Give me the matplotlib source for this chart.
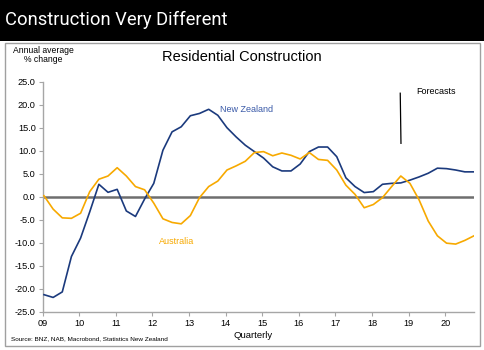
import numpy as np
import matplotlib.pyplot as plt
from matplotlib.patches import Rectangle

# --------------------------------------------------
# data (annual average % change, quarterly 2009Q1 - 2020Q4)
# --------------------------------------------------
years = list(range(2009, 2021))
year_labels = ['09', '10', '11', '12', '13', '14', '15', '16', '17', '18', '19', '20']

nz = [-21.3, -21.9, -20.7, -13.0,
      -9.0, -3.3, 2.7, 0.95,
      1.6, -3.1, -4.3, -0.5,
      2.9, 10.1, 14.1, 15.2,
      17.6, 18.1, 19.0, 17.7,
      15.0, 13.0, 11.2, 9.8,
      8.4, 6.5, 5.6, 5.6,
      7.1, 9.8, 10.8, 10.8,
      8.7, 4.1, 2.2, 0.9,
      1.1, 2.7, 2.9, 3.0,
      3.6, 4.3, 5.1, 6.2,
      6.1, 5.8, 5.4, 5.4]

aus = [0.2, -2.7, -4.6, -4.7,
       -3.6, 1.1, 3.8, 4.5,
       6.3, 4.5, 2.2, 1.5,
       -1.4, -4.8, -5.6, -5.9,
       -4.1, -0.2, 2.2, 3.4,
       5.8, 6.7, 7.7, 9.6,
       9.8, 8.9, 9.5, 9.0,
       8.2, 9.6, 8.1, 7.9,
       5.8, 2.5, 0.5, -2.4,
       -1.7, -0.2, 2.2, 4.5,
       2.9, -0.7, -5.3, -8.5,
       -10.1, -10.3, -9.5, -8.5]

# quarter positions in decimal years
x = 2009.035 + 0.25 * np.arange(len(nz))

NZ_COL = '#1b3a7d'
AU_COL = '#f7a900'
FONT = 'Liberation Sans'

fig = plt.figure(figsize=(4.84, 3.5), dpi=100)

# header bar + panel box
fig.add_artist(Rectangle((0, 1 - 40.5/350), 1, 40.5/350, transform=fig.transFigure,
                         facecolor='black', edgecolor='none'))
fig.add_artist(Rectangle((5/484, 1 - 345.5/350), 475/484, 302.5/350, transform=fig.transFigure,
                         facecolor='none', edgecolor='#a0a0a0', lw=1.0))
fig.text(5/484, 1 - 20/350, 'Construction Very Different', color='white',
         fontsize=13.2, family='Roboto', weight='normal', va='center', ha='left')

ax = fig.add_axes([42.7/484, 1 - 311.7/350, (473.8 - 42.7)/484, (311.7 - 81.7)/350])

ax.plot(x, nz, color=NZ_COL, lw=1.2, zorder=3)
ax.plot(x, aus, color=AU_COL, lw=1.2, zorder=3)
ax.axhline(0, color='#6e6e6e', lw=1.8, zorder=2)

ax.set_xlim(2009, 2020.78)
ax.set_ylim(-25, 25)
ax.set_yticks(np.arange(-25, 26, 5))
ax.set_yticklabels([f'{v:.1f}' for v in np.arange(-25, 26, 5)])
ax.set_xticks(years)
ax.set_xticklabels(year_labels)

for s in ['top', 'right']:
    ax.spines[s].set_visible(False)
for s in ['left', 'bottom']:
    ax.spines[s].set_color('#a6a6a6')
    ax.spines[s].set_linewidth(1.0)
ax.tick_params(direction='out', length=3, width=0.8, color='#a6a6a6',
               labelsize=6.6, pad=2)
for lbl in ax.get_xticklabels() + ax.get_yticklabels():
    lbl.set_family(FONT)
ax.patch.set_alpha(0)

# annotations
ax.text(2013.84, 19.0, 'New Zealand', color='#3a5aa8', fontsize=6.5, family=FONT,
        va='center', ha='left')
ax.text(2012.19, -9.8, 'Australia', color=AU_COL, fontsize=6.5, family=FONT,
        va='center', ha='left')
ax.text(2019.2, 22.9, 'Forecasts', color='black', fontsize=6.5, family=FONT,
        va='center', ha='left')
ax.plot([2018.77, 2018.79], [22.5, 11.6], color='black', lw=0.9, clip_on=False)

fig.text(242/484, 1 - 57/350, 'Residential Construction', fontsize=10.5, family=FONT,
         ha='center', va='center')
fig.text(43/484, 1 - 55/350, 'Annual average\n% change', fontsize=6.2, family=FONT,
         ha='center', va='center', linespacing=1.1)
fig.text(253/484, 1 - 336/350, 'Quarterly', fontsize=6.8, family=FONT,
         ha='center', va='center')
fig.text(11/484, 1 - 339/350, 'Source: BNZ, NAB, Macrobond, Statistics New Zealand',
         fontsize=4.6, family=FONT, ha='left', va='center')

fig.savefig('out.png', dpi=100)
